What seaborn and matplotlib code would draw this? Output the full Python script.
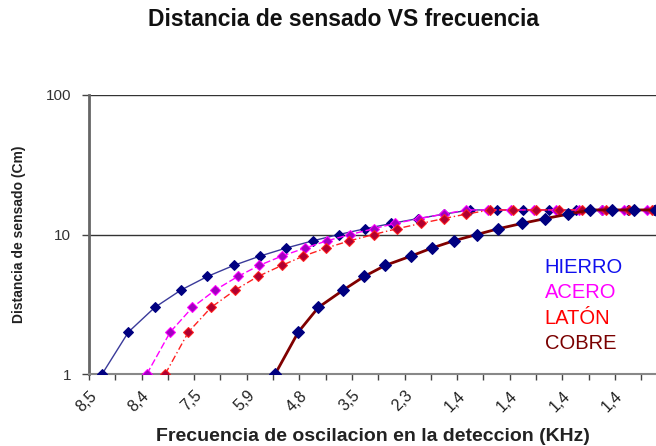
import matplotlib
matplotlib.use("Agg")
import matplotlib.pyplot as plt
import seaborn as sns
from matplotlib.ticker import FixedLocator, NullLocator

sns.set_theme(style="white")
plt.rcParams['font.family'] = ['Liberation Sans', 'DejaVu Sans']

# ---- data (x in category-slot units) ----
hierro_x = [0, 1, 2, 3, 4, 5, 6, 7, 8, 9, 10, 11, 12, 13, 14, 15, 16, 17, 18, 19, 20, 21]
hierro_y = [1, 2, 3, 4, 5, 6, 7, 8, 9, 10, 11, 12, 13, 14, 15, 15, 15, 15, 15, 15, 15, 15]

acero_x = [1.70, 2.59, 3.43, 4.30, 5.16, 5.97, 6.83, 7.72, 8.54, 9.43, 10.32, 11.14,
           12.06, 12.98, 13.84, 14.68, 15.55, 16.43, 17.26, 18.14, 19.01, 19.85, 20.72]
acero_y = [1, 2, 3, 4, 5, 6, 7, 8, 9, 10, 11, 12, 13, 14, 15, 15, 15, 15, 15, 15, 15, 15, 15]

laton_x = [2.40, 3.28, 4.14, 5.06, 5.92, 6.83, 7.65, 8.52, 9.40, 10.32, 11.21, 12.12,
           12.98, 13.84, 14.75, 15.63, 16.50, 17.38, 18.25, 19.16, 20.04, 20.91]
laton_y = [1, 2, 3, 4, 5, 6, 7, 8, 9, 10, 11, 12, 13, 14, 15, 15, 15, 15, 15, 15, 15, 15]

cobre_x = [6.58, 7.46, 8.22, 9.17, 9.96, 10.76, 11.74, 12.54, 13.36, 14.25, 15.07,
           15.96, 16.84, 17.73, 18.56, 19.39, 20.23, 21.06]
cobre_y = [1, 2, 3, 4, 5, 6, 7, 8, 9, 10, 11, 12, 13, 14, 15, 15, 15, 15]

tick_labels = ["8,5", "8,4", "7,5", "5,9", "4,8", "3,5", "2,3", "1,4", "1,4", "1,4", "1,4"]
tick_pos = [0, 2, 4, 6, 8, 10, 12, 14, 16, 18, 20]
y_ticks = [1, 10, 100]

series_names = ["HIERRO", "ACERO", "LATÓN", "COBRE"]
series_colors = ["#1010EE", "#FF00FF", "#FF0000", "#7A0000"]

# ---- figure ----
fig = plt.figure(figsize=(6.56, 4.46), dpi=100)
ax = fig.add_axes([89 / 656, (446 - 374) / 446, (656 - 89) / 656, (374 - 95) / 446])
ax.set_facecolor("white")

sns.lineplot(x=hierro_x, y=hierro_y, ax=ax, sort=False, color="#3A3A9A", lw=1.0,
             marker="D", markersize=5, markerfacecolor="#000080", markeredgecolor="#000080",
             zorder=3)
sns.lineplot(x=acero_x, y=acero_y, ax=ax, sort=False, color="#FF00FF", lw=1.0,
             linestyle=(0, (5, 2)), marker="D", markersize=5,
             markerfacecolor="#A000C0", markeredgecolor="#FF00FF", zorder=4)
sns.lineplot(x=laton_x, y=laton_y, ax=ax, sort=False, color="#FF2020", lw=1.0,
             linestyle=(0, (5, 2, 1, 2)), marker="D", markersize=5,
             markerfacecolor="#B00030", markeredgecolor="#FF2020", zorder=4)
sns.lineplot(x=cobre_x, y=cobre_y, ax=ax, sort=False, color="#800000", lw=2.0,
             marker="D", markersize=6.5, markerfacecolor="#000080", markeredgecolor="#000080",
             zorder=5)

ax.set_yscale("log")
ax.set_ylim(1, 100)
ax.set_xlim(-0.5, 21.06)
ax.yaxis.set_major_locator(FixedLocator(y_ticks))
ax.yaxis.set_minor_locator(NullLocator())
ax.set_yticklabels([str(v) for v in y_ticks])
for v in y_ticks[1:]:
    ax.axhline(v, color="#333333", lw=1.0, zorder=1)

# labels sit at the left boundary of every second category slot (Excel style)
ax.xaxis.set_major_locator(FixedLocator([p - 0.5 for p in tick_pos]))
ax.set_xticklabels(tick_labels, rotation=45, ha="right", va="top",
                   rotation_mode="anchor", fontsize=11.5, color="#222222")
ax.xaxis.set_minor_locator(FixedLocator([k + 0.5 for k in range(-1, 22)]))
ax.tick_params(axis="x", which="both", length=4, width=1, color="#444444",
               direction="out", bottom=True, pad=6)
ax.tick_params(axis="y", which="major", length=5, width=1, color="#444444",
               direction="out", left=True, labelsize=11, labelcolor="#333333", pad=8)

for s in ["top", "right"]:
    ax.spines[s].set_visible(False)
ax.spines["left"].set_color("#666666")
ax.spines["left"].set_linewidth(2)
ax.spines["bottom"].set_color("#888888")
ax.spines["bottom"].set_linewidth(1.5)

ax.set_xlabel("Frecuencia de oscilacion en la deteccion (KHz)", fontsize=14,
              fontweight="bold", color="#222222", labelpad=10)
ax.set_ylabel("Distancia de sensado (Cm)", fontsize=10, fontweight="bold",
              color="#222222", labelpad=14)
fig.text(343 / 656, 1 - 20 / 446, "Distancia de sensado VS frecuencia", ha="center",
         va="center", fontsize=16.5, fontweight="bold", color="#111111")

ys = [0.3835, 0.293, 0.20, 0.111]
for name, col, yy in zip(series_names, series_colors, ys):
    ax.text(0.804, yy, name, transform=ax.transAxes, color=col, fontsize=14.5,
            ha="left", va="center")

fig.savefig("out.png", dpi=100)
